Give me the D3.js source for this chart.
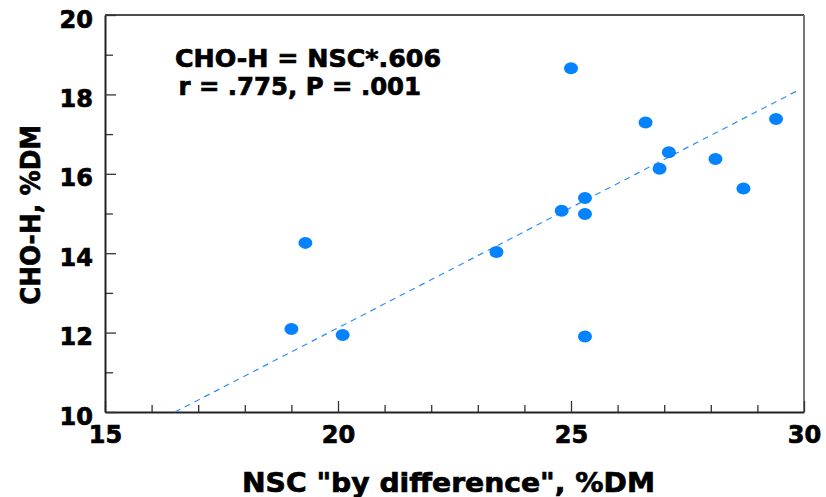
<!DOCTYPE html>
<html>
<head>
<meta charset="utf-8">
<script src="https://cdn.jsdelivr.net/npm/d3@7"></script>
<style>
  body { margin: 0; background: #fff; }
  text { font-family: "DejaVu Sans", "Liberation Sans", sans-serif; font-weight: bold; fill: #000; stroke: #000; stroke-width: 0.7px; }
</style>
</head>
<body>
<svg id="chart" width="826" height="497"></svg>
<script>
'use strict'

// NSC "by difference" (%DM) vs CHO-H (%DM)
const nsc = [19.0, 19.3, 20.1, 23.4, 25.0, 24.8, 25.3, 25.3, 25.3, 26.6, 26.9, 27.1, 28.1, 28.7, 29.4]
const choH = [12.09, 14.26, 11.94, 14.03, 18.66, 15.07, 15.39, 14.99, 11.90, 17.29, 16.13, 16.54, 16.37, 15.63, 17.38]

const xMajor = [15, 20, 25, 30]
const xMinor = [16, 17, 18, 19, 21, 22, 23, 24, 26, 27, 28, 29]
const yMajor = [10, 12, 14, 16, 18, 20]
const yMinor = [11, 13, 15, 17, 19]

// fitted line CHO-H = NSC * .606, drawn over this NSC range
const fitSlope = 0.606
const fitRange = [16.5, 29.9]

const noteLines = ['CHO-H = NSC*.606', ' r = .775, P = .001']

const svg = d3.select('#chart')
const frame = { left: 105, right: 804, top: 15, bottom: 412 }

const x = d3.scaleLinear().domain([15, 30]).range([frame.left, frame.right])
const y = d3.scaleLinear().domain([10, 20]).range([frame.bottom, frame.top])

// top and right border
svg.append('line')
  .attr('x1', frame.left).attr('x2', frame.right)
  .attr('y1', frame.top).attr('y2', frame.top)
  .attr('stroke', '#111').attr('stroke-width', 1.5)
svg.append('line')
  .attr('x1', frame.right).attr('x2', frame.right)
  .attr('y1', frame.top).attr('y2', frame.bottom)
  .attr('stroke', '#777').attr('stroke-width', 2)

// minor ticks first, then major ticks with labels
svg.append('g')
  .attr('transform', 'translate(0,' + frame.bottom + ')')
  .call(d3.axisBottom(x).tickValues(xMinor).tickSize(-7).tickFormat(''))
  .call(g => g.select('.domain').remove())
svg.append('g')
  .attr('transform', 'translate(' + frame.left + ',0)')
  .call(d3.axisLeft(y).tickValues(yMinor).tickSize(-8).tickFormat(''))
  .call(g => g.select('.domain').remove())

const xAxis = svg.append('g')
  .attr('transform', 'translate(0,' + frame.bottom + ')')
  .call(d3.axisBottom(x).tickValues(xMajor).tickSize(-11).tickPadding(14).tickSizeOuter(0))
xAxis.selectAll('text').attr('font-size', 24).attr('font-family', null)

const yAxis = svg.append('g')
  .attr('transform', 'translate(' + frame.left + ',0)')
  .call(d3.axisLeft(y).tickValues(yMajor).tickSize(-11).tickPadding(12).tickSizeOuter(0))
yAxis.selectAll('text').attr('font-size', 24).attr('font-family', null).attr('dy', '0.5em')

svg.selectAll('.domain').attr('stroke', '#222').attr('stroke-width', 2)
svg.selectAll('.tick line').attr('stroke', '#333').attr('stroke-width', 1.3)

// regression line
svg.append('line')
  .attr('x1', x(fitRange[0])).attr('y1', y(fitRange[0] * fitSlope))
  .attr('x2', x(fitRange[1])).attr('y2', y(fitRange[1] * fitSlope))
  .attr('stroke', '#2b8ff5')
  .attr('stroke-width', 1.2)
  .attr('stroke-dasharray', '6,5')

// points
svg.append('g')
  .selectAll('ellipse')
  .data(nsc.map((v, i) => [v, choH[i]]))
  .enter()
  .append('ellipse')
  .attr('cx', d => x(d[0]))
  .attr('cy', d => y(d[1]))
  .attr('rx', 7)
  .attr('ry', 6)
  .attr('fill', '#0582fd')

// annotation
svg.append('text')
  .attr('x', 175).attr('y', 67)
  .attr('font-size', 24)
  .attr('textLength', 266).attr('lengthAdjust', 'spacingAndGlyphs')
  .text(noteLines[0])
svg.append('text')
  .attr('x', 170).attr('y', 95)
  .attr('font-size', 24)
  .attr('xml:space', 'preserve')
  .attr('textLength', 251).attr('lengthAdjust', 'spacingAndGlyphs')
  .text(noteLines[1])

// axis titles
svg.append('text')
  .attr('x', 448.5).attr('y', 492)
  .attr('text-anchor', 'middle')
  .attr('font-size', 27)
  .attr('textLength', 413).attr('lengthAdjust', 'spacingAndGlyphs')
  .text('NSC "by difference", %DM')

svg.append('text')
  .attr('transform', 'translate(40,215) rotate(-90)')
  .attr('text-anchor', 'middle')
  .attr('font-size', 27)
  .attr('textLength', 180).attr('lengthAdjust', 'spacingAndGlyphs')
  .text('CHO-H, %DM')
</script>
</body>
</html>
